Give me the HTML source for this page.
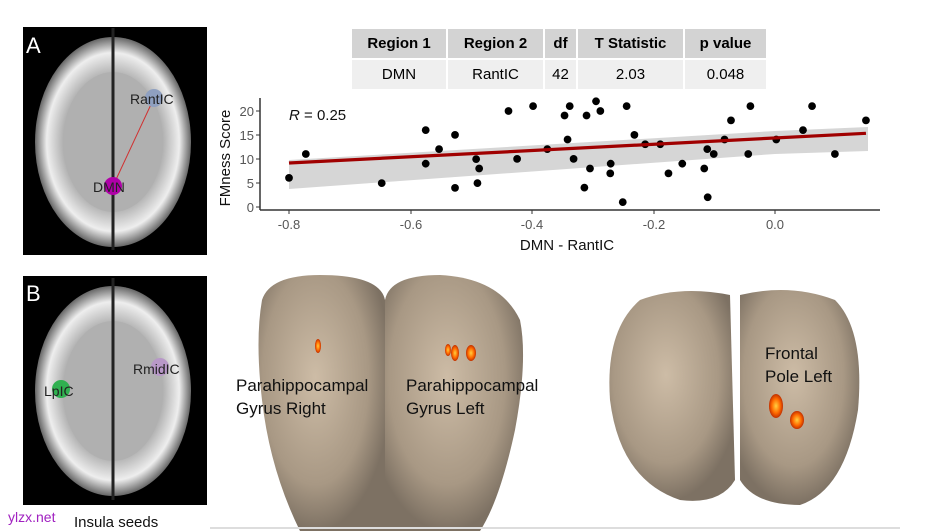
<!DOCTYPE html><html><head><style>
body{margin:0;background:#fff;width:950px;height:531px;overflow:hidden;font-family:"Liberation Sans",Arial,sans-serif;position:relative}
table{position:absolute;left:352px;top:29px;border-collapse:collapse;font-size:15px}
td{text-align:center;height:29px;border-right:2px solid #fff;padding:0}
tr.h td{background:#d3d3d3;font-weight:bold}
tr.d td{background:#efefef;border-top:2px solid #fff}
</style></head><body>
<svg width="950" height="531" style="position:absolute;left:0;top:0">
<defs>
<radialGradient id="br" cx="50%" cy="50%" r="50%"><stop offset="0" stop-color="#c0c0c0"/><stop offset="0.6" stop-color="#a5a5a5"/><stop offset="0.85" stop-color="#eeeeee"/><stop offset="1" stop-color="#666"/></radialGradient>
<radialGradient id="sf" cx="45%" cy="40%" r="60%"><stop offset="0" stop-color="#cdbca6"/><stop offset="0.7" stop-color="#a89884"/><stop offset="1" stop-color="#7d7163"/></radialGradient>
<radialGradient id="hot" cx="50%" cy="50%" r="50%"><stop offset="0" stop-color="#ffd040"/><stop offset="0.6" stop-color="#ff6a00"/><stop offset="1" stop-color="#c03000"/></radialGradient>
</defs>
<rect x="23" y="27" width="184" height="228" fill="#000"/>
<ellipse cx="113" cy="142" rx="78" ry="105" fill="url(#br)"/>
<ellipse cx="113" cy="142" rx="50" ry="70" fill="#b0b0b0"/>
<line x1="113" y1="28" x2="113" y2="250" stroke="#222" stroke-width="3"/>
<line x1="154" y1="98" x2="113" y2="186" stroke="#d03030" stroke-width="1"/>
<circle cx="154" cy="98" r="9" fill="#8fa0c0"/>
<circle cx="113" cy="186" r="9" fill="#b000a8"/>
<text x="26" y="53" font-size="22" fill="#fff">A</text>
<text x="130" y="104" font-size="14" fill="#222">RantIC</text>
<text x="93" y="192" font-size="14" fill="#222">DMN</text>
<rect x="23" y="276" width="184" height="229" fill="#000"/>
<ellipse cx="113" cy="391" rx="78" ry="105" fill="url(#br)"/>
<ellipse cx="113" cy="391" rx="50" ry="70" fill="#b0b0b0"/>
<line x1="113" y1="278" x2="113" y2="500" stroke="#222" stroke-width="3"/>
<circle cx="61" cy="389" r="9" fill="#30b050"/>
<circle cx="160" cy="367" r="9" fill="#b898c8"/>
<text x="26" y="301" font-size="22" fill="#fff">B</text>
<text x="44" y="396" font-size="14" fill="#222">LpIC</text>
<text x="133" y="374" font-size="14" fill="#222">RmidIC</text>
<polygon points="289,160 775,131 868,127 868,151 775,154 289,189" fill="#d6d6d6"/>
<line x1="260" y1="98" x2="260" y2="210" stroke="#333" stroke-width="1.5"/>
<line x1="260" y1="210" x2="880" y2="210" stroke="#333" stroke-width="1.5"/>
<g font-size="13" fill="#555" text-anchor="end">
<text x="254" y="212">0</text><text x="254" y="188">5</text><text x="254" y="164">10</text><text x="254" y="140">15</text><text x="254" y="116">20</text>
</g>
<g stroke="#333"><line x1="256" y1="207" x2="260" y2="207"/><line x1="256" y1="183" x2="260" y2="183"/><line x1="256" y1="159" x2="260" y2="159"/><line x1="256" y1="135" x2="260" y2="135"/><line x1="256" y1="111" x2="260" y2="111"/>
<line x1="289" y1="210" x2="289" y2="214"/><line x1="411" y1="210" x2="411" y2="214"/><line x1="532" y1="210" x2="532" y2="214"/><line x1="654" y1="210" x2="654" y2="214"/><line x1="775" y1="210" x2="775" y2="214"/></g>
<g font-size="13" fill="#555" text-anchor="middle">
<text x="289" y="229">-0.8</text><text x="411" y="229">-0.6</text><text x="532" y="229">-0.4</text><text x="654" y="229">-0.2</text><text x="775" y="229">0.0</text>
</g>
<text x="567" y="250" font-size="15" text-anchor="middle" fill="#111">DMN - RantIC</text>
<text x="230" y="158" font-size="15" text-anchor="middle" fill="#111" transform="rotate(-90 230 158)">FMness Score</text>
<text x="289" y="120" font-size="15" fill="#111"><tspan font-style="italic">R</tspan> = 0.25</text>
<g transform="translate(210.1,90) scale(0.4312,0.3232)" fill="#000">
<ellipse cx="183" cy="272" rx="9" ry="12"/><ellipse cx="222" cy="198" rx="9" ry="12"/><ellipse cx="398" cy="288" rx="9" ry="12"/><ellipse cx="500" cy="124" rx="9" ry="12"/><ellipse cx="500" cy="228" rx="9" ry="12"/><ellipse cx="531" cy="183" rx="9" ry="12"/><ellipse cx="568" cy="139" rx="9" ry="12"/><ellipse cx="568" cy="303" rx="9" ry="12"/><ellipse cx="617" cy="214" rx="9" ry="12"/><ellipse cx="624" cy="243" rx="9" ry="12"/><ellipse cx="620" cy="288" rx="9" ry="12"/><ellipse cx="692" cy="65" rx="9" ry="12"/><ellipse cx="712" cy="213" rx="9" ry="12"/><ellipse cx="749" cy="50" rx="9" ry="12"/><ellipse cx="782" cy="183" rx="9" ry="12"/><ellipse cx="822" cy="79" rx="9" ry="12"/><ellipse cx="829" cy="153" rx="9" ry="12"/><ellipse cx="834" cy="50" rx="9" ry="12"/><ellipse cx="843" cy="213" rx="9" ry="12"/><ellipse cx="868" cy="302" rx="9" ry="12"/><ellipse cx="873" cy="79" rx="9" ry="12"/><ellipse cx="881" cy="243" rx="9" ry="12"/><ellipse cx="895" cy="35" rx="9" ry="12"/><ellipse cx="905" cy="65" rx="9" ry="12"/><ellipse cx="929" cy="228" rx="9" ry="12"/><ellipse cx="928" cy="258" rx="9" ry="12"/><ellipse cx="957" cy="347" rx="9" ry="12"/><ellipse cx="966" cy="50" rx="9" ry="12"/><ellipse cx="984" cy="139" rx="9" ry="12"/><ellipse cx="1009" cy="168" rx="9" ry="12"/><ellipse cx="1044" cy="168" rx="9" ry="12"/><ellipse cx="1063" cy="258" rx="9" ry="12"/><ellipse cx="1095" cy="228" rx="9" ry="12"/><ellipse cx="1146" cy="243" rx="9" ry="12"/><ellipse cx="1153" cy="183" rx="9" ry="12"/><ellipse cx="1154" cy="332" rx="9" ry="12"/><ellipse cx="1168" cy="198" rx="9" ry="12"/><ellipse cx="1193" cy="153" rx="9" ry="12"/><ellipse cx="1208" cy="94" rx="9" ry="12"/><ellipse cx="1248" cy="198" rx="9" ry="12"/><ellipse cx="1253" cy="50" rx="9" ry="12"/><ellipse cx="1313" cy="153" rx="9" ry="12"/><ellipse cx="1375" cy="124" rx="9" ry="12"/><ellipse cx="1396" cy="50" rx="9" ry="12"/><ellipse cx="1449" cy="198" rx="9" ry="12"/><ellipse cx="1521" cy="94" rx="9" ry="12"/>
<line x1="183" y1="226" x2="1521" y2="134" stroke="#a00000" stroke-width="10"/>
</g>
<path d="M262,300 Q270,275 320,275 Q380,275 385,300 L385,531 L300,531 Q270,470 262,400 Q255,340 262,300Z" fill="url(#sf)"/>
<path d="M385,300 Q390,275 440,275 Q500,278 520,320 Q528,360 515,430 Q500,500 480,531 L385,531Z" fill="url(#sf)"/>
<ellipse cx="318" cy="346" rx="3" ry="7" fill="url(#hot)"/>
<ellipse cx="448" cy="350" rx="3" ry="6" fill="url(#hot)"/>
<ellipse cx="455" cy="353" rx="4" ry="8" fill="url(#hot)"/>
<ellipse cx="471" cy="353" rx="5" ry="8" fill="url(#hot)"/>
<text x="236" y="391" font-size="17" fill="#111">Parahippocampal</text>
<text x="236" y="414" font-size="17" fill="#111">Gyrus Right</text>
<text x="406" y="391" font-size="17" fill="#111">Parahippocampal</text>
<text x="406" y="414" font-size="17" fill="#111">Gyrus Left</text>
<path d="M730,295 Q680,285 640,300 Q605,330 610,400 Q620,480 680,500 Q720,505 735,480Z" fill="url(#sf)"/>
<path d="M740,295 Q790,283 835,300 Q865,330 858,410 Q845,490 800,505 Q755,505 740,480Z" fill="url(#sf)"/>
<ellipse cx="776" cy="406" rx="7" ry="12" fill="url(#hot)"/>
<ellipse cx="797" cy="420" rx="7" ry="9" fill="url(#hot)"/>
<text x="765" y="359" font-size="17" fill="#111">Frontal</text>
<text x="765" y="382" font-size="17" fill="#111">Pole Left</text>
<line x1="210" y1="528" x2="900" y2="528" stroke="#ddd" stroke-width="2"/>
<text x="8" y="522" font-size="14" fill="#a020c0">ylzx.net</text>
<text x="74" y="527" font-size="15" fill="#111">Insula seeds</text>
</svg>
<table>
<tr class="h"><td style="width:94px">Region 1</td><td style="width:95px">Region 2</td><td style="width:31px">df</td><td style="width:105px">T Statistic</td><td style="width:81px;border-right:0">p value</td></tr>
<tr class="d"><td>DMN</td><td>RantIC</td><td>42</td><td>2.03</td><td style="border-right:0">0.048</td></tr>
</table>
</body></html>
